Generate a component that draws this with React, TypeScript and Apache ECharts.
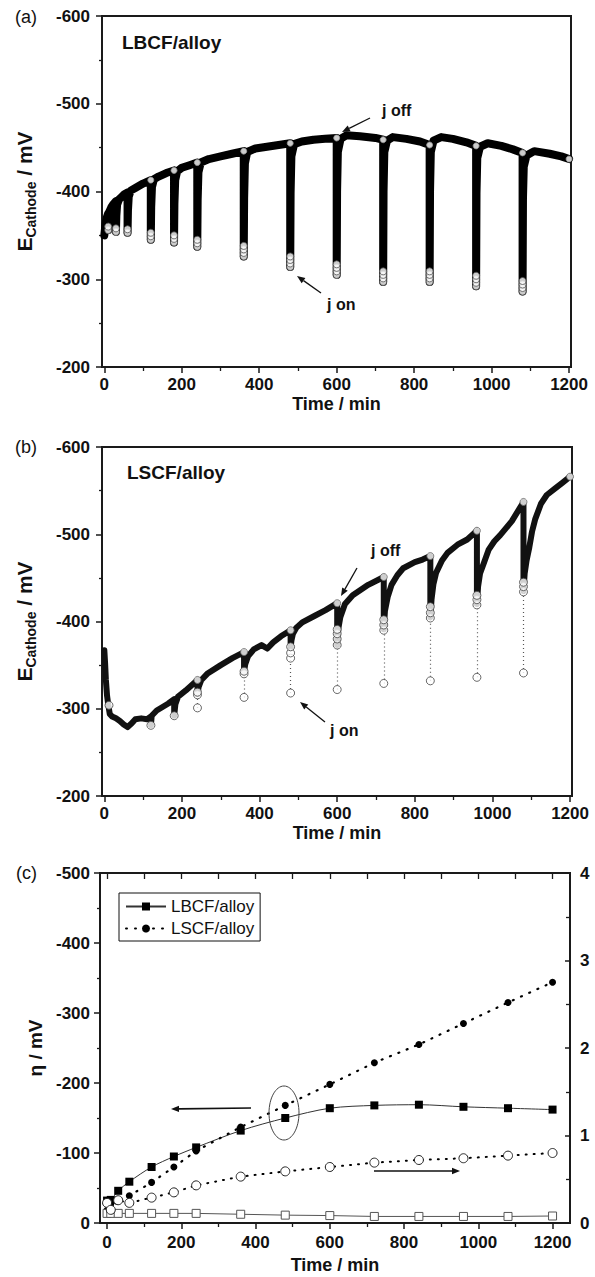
import React, { useEffect, useRef } from 'react';
import * as echarts from 'echarts';

const FONT = '"Liberation Sans", Arial, Helvetica, sans-serif';

// ---------- Panel (a): LBCF/alloy, E_cathode (mV) vs time (min) ----------
const lbcfBand: [number, number][] = [
  [0, -350], [3, -363], [6, -370], [10, -375], [10, -356], [11, -368], [13, -377], [18, -382], [24, -386], [30, -389],
  [30, -354], [31, -372], [33, -385], [38, -391], [45, -394], [52, -397], [60, -399],
  [60, -353], [61, -378], [63, -394], [68, -401], [80, -404], [100, -409], [120, -413],
  [120, -345], [121, -382], [123, -405], [128, -414], [140, -417], [160, -421], [180, -424],
  [180, -342], [181, -386], [183, -413], [188, -423], [200, -427], [220, -430], [240, -433],
  [240, -337], [241, -390], [243, -422], [249, -433], [270, -437], [300, -440], [330, -443], [360, -446],
  [360, -326], [361, -392], [363, -432], [369, -445], [390, -449], [420, -451], [450, -453], [480, -455],
  [480, -314], [481, -398], [483, -440], [490, -454], [510, -457], [540, -459], [570, -460], [600, -461],
  [600, -305], [601, -400], [603, -445], [610, -460], [625, -464], [660, -463], [700, -461], [720, -459],
  [720, -297], [721, -400], [723, -445], [730, -458], [745, -462], [780, -460], [815, -457], [840, -453],
  [840, -297], [841, -400], [843, -445], [850, -458], [870, -462], [900, -460], [935, -456], [960, -452],
  [960, -292], [961, -398], [963, -438], [970, -451], [990, -455], [1025, -452], [1055, -448], [1080, -444],
  [1080, -286], [1081, -392], [1083, -428], [1090, -441], [1110, -446], [1150, -443], [1180, -440], [1200, -437],
];
const lbcfOnCircles: [number, number][] = [
  [10, -356], [10, -360], [30, -354], [30, -358], [60, -353], [60, -357],
  [120, -345], [120, -349], [120, -353], [180, -342], [180, -346], [180, -350],
  [240, -337], [240, -341], [240, -345],
  [360, -326], [360, -330], [360, -334], [360, -338],
  [480, -314], [480, -318], [480, -322], [480, -326],
  [600, -305], [600, -309], [600, -313], [600, -317],
  [720, -297], [720, -301], [720, -305], [720, -309],
  [840, -297], [840, -301], [840, -305], [840, -309],
  [960, -292], [960, -296], [960, -300], [960, -304],
  [1080, -286], [1080, -290], [1080, -294], [1080, -298],
];
const lbcfOffPoints: [number, number][] = [
  [120, -413], [180, -424], [240, -433], [360, -446], [480, -455], [600, -461],
  [720, -459], [840, -453], [960, -452], [1080, -444], [1200, -437],
];

// ---------- Panel (b): LSCF/alloy ----------
const lscfBand: [number, number][] = [
  [0, -367], [2, -352], [4, -333], [7, -315], [10, -305], [14, -294], [20, -291], [30, -289], [40, -286], [50, -282],
  [60, -279], [70, -283], [80, -288], [95, -289], [110, -288], [120, -291], [120, -281], [122, -292], [135, -298],
  [150, -302], [165, -306], [180, -311], [180, -292], [183, -305], [190, -314], [210, -321], [225, -327], [240, -333],
  [240, -317], [243, -325], [250, -333], [265, -340], [300, -350], [330, -358], [360, -365],
  [360, -342], [363, -351], [370, -360], [385, -368], [405, -373], [420, -369], [435, -376], [455, -383], [480, -390],
  [480, -370], [482, -378], [486, -386], [495, -393], [510, -399], [540, -406], [570, -413], [600, -421],
  [600, -373], [603, -392], [608, -405], [620, -420], [640, -430], [680, -442], [720, -451],
  [720, -391], [723, -412], [730, -428], [740, -442], [755, -453], [770, -461], [800, -468], [820, -471], [840, -475],
  [840, -405], [843, -425], [848, -443], [855, -456], [870, -470], [885, -479], [910, -488], [935, -494], [960, -504],
  [960, -420], [963, -440], [968, -455], [977, -466], [990, -482], [1005, -492], [1020, -499], [1050, -515], [1080, -537],
  [1080, -435], [1083, -455], [1088, -470], [1095, -485], [1102, -503], [1110, -517], [1125, -535], [1140, -545],
  [1160, -552], [1180, -559], [1200, -566],
];
const lscfOnCircles: [number, number][] = [
  [12, -304], [120, -281], [180, -292],
  [240, -316], [240, -319], [240, -301],
  [360, -340], [360, -343], [360, -313],
  [480, -358], [480, -364], [480, -371], [480, -318],
  [600, -373], [600, -380], [600, -386], [600, -391], [600, -322],
  [720, -390], [720, -396], [720, -402], [720, -329],
  [840, -404], [840, -410], [840, -417], [840, -332],
  [960, -419], [960, -425], [960, -430], [960, -336],
  [1080, -434], [1080, -440], [1080, -445], [1080, -341],
];
const lscfDipBottoms: [number, number][] = [
  [240, -301], [360, -313], [480, -318], [600, -322], [720, -329], [840, -332], [960, -336], [1080, -341],
];
const lscfDipUppers: [number, number][] = [
  [240, -316], [360, -340], [480, -358], [600, -373], [720, -390], [840, -404], [960, -419], [1080, -434],
];
const lscfOffPoints: [number, number][] = [
  [240, -333], [360, -365], [480, -390], [600, -421], [720, -451], [840, -475], [960, -504], [1080, -537], [1200, -566],
];

// ---------- Panel (c): overpotential & right-axis quantity ----------
const etaTimes = [0, 10, 30, 60, 120, 180, 240, 360, 480, 600, 720, 840, 960, 1080, 1200];
const lbcfEta = [-32, -33, -46, -59, -80, -95, -108, -132, -150, -164, -168, -169, -166, -164, -162];
const lscfEta = [-18, -27, -31, -39, -58, -80, -103, -137, -168, -198, -229, -255, -285, -315, -344];
const lbcfRight = [0.11, 0.11, 0.11, 0.11, 0.11, 0.11, 0.11, 0.1, 0.09, 0.085, 0.075, 0.075, 0.075, 0.075, 0.08];
const lscfRight = [0.23, 0.15, 0.26, 0.23, 0.29, 0.35, 0.43, 0.53, 0.59, 0.64, 0.69, 0.72, 0.74, 0.77, 0.8];

const xMajorTicks = [0, 200, 400, 600, 800, 1000, 1200];
const xMinorTicks = [100, 300, 500, 700, 900, 1100];
const xAllTicks = [0, 100, 200, 300, 400, 500, 600, 700, 800, 900, 1000, 1100, 1200];

const AX = '#1a1a1a';
const labelStyle = { fontSize: 17, fontWeight: 'bold' as const, color: '#111', fontFamily: FONT };
const plain = (v: number) => String(v);

function mainX(gridIndex: number, min: number, max: number, nameGap: number, margin: number) {
  return {
    type: 'value', gridIndex, min, max, position: 'bottom',
    axisLine: { show: true, onZero: false, lineStyle: { color: AX, width: 2 } },
    axisTick: { show: true, customValues: xMajorTicks, length: 6, lineStyle: { color: AX, width: 1.5 } },
    axisLabel: { ...labelStyle, customValues: xMajorTicks, margin, formatter: plain },
    splitLine: { show: false },
    name: 'Time / min', nameLocation: 'middle', nameGap,
    nameTextStyle: { fontSize: 18, fontWeight: 'bold', color: '#111', fontFamily: FONT },
  };
}
function minorX(gridIndex: number, min: number, max: number, position: string, values: number[], inside: boolean, length: number) {
  return {
    type: 'value', gridIndex, min, max, position,
    axisLine: { show: position === 'top', onZero: false, lineStyle: { color: AX, width: 2 } },
    axisTick: { show: true, customValues: values, inside, length, lineStyle: { color: AX, width: 1.3 } },
    axisLabel: { show: false },
    splitLine: { show: false },
  };
}
function eYAxis(gridIndex: number) {
  return {
    type: 'value', gridIndex, min: -600, max: -200, interval: 100, inverse: true,
    axisLine: { show: true, onZero: false, lineStyle: { color: AX, width: 2 } },
    axisTick: { show: true, length: 6, lineStyle: { color: AX, width: 1.5 } },
    minorTick: { show: true, splitNumber: 2, length: 3, lineStyle: { color: AX, width: 1.3 } },
    axisLabel: { ...labelStyle, margin: 12, formatter: plain },
    splitLine: { show: false },
    name: '{e|E}{s|Cathode}{e| / mV}', nameLocation: 'middle', nameGap: 64, nameRotate: 90,
    nameTextStyle: {
      fontFamily: FONT, fontWeight: 'bold', color: '#111',
      rich: {
        e: { fontSize: 21, fontWeight: 'bold', fontFamily: FONT, color: '#111', lineHeight: 28 },
        s: { fontSize: 14, fontWeight: 'bold', fontFamily: FONT, color: '#111', lineHeight: 14, verticalAlign: 'bottom' },
      },
    },
  };
}

function arrow(x1: number, y1: number, x2: number, y2: number, lw = 1.3) {
  const a = Math.atan2(y2 - y1, x2 - x1);
  const L = 8, W = 3.2;
  const bx = x2 - L * Math.cos(a), by = y2 - L * Math.sin(a);
  const px = -Math.sin(a) * W, py = Math.cos(a) * W;
  return [
    { type: 'line', z: 100, shape: { x1, y1, x2: bx, y2: by }, style: { stroke: '#111', lineWidth: lw } },
    { type: 'polygon', z: 100, shape: { points: [[x2, y2], [bx + px, by + py], [bx - px, by - py]] }, style: { fill: '#111' } },
  ];
}
function txt(text: string, x: number, y: number, size: number, bold: boolean, align = 'left') {
  return {
    type: 'text', z: 100, x, y,
    style: { text, fontSize: size, fontWeight: bold ? 'bold' : 'normal', fontFamily: FONT, fill: '#111', align, verticalAlign: 'middle' },
  };
}

function buildOption() {
  const gridBase = { show: true, borderColor: AX, borderWidth: 2, backgroundColor: 'transparent', containLabel: false };
  const openCircle = { color: '#fff', borderColor: '#444', borderWidth: 1 };
  return {
    animation: false,
    backgroundColor: '#fff',
    grid: [
      { ...gridBase, left: 102, top: 16, width: 469, height: 351 },
      { ...gridBase, left: 102, top: 447, width: 470, height: 349 },
      { ...gridBase, left: 100, top: 873, width: 470, height: 350 },
    ],
    xAxis: [
      mainX(0, -6, 1205, 28, 9),
      minorX(0, -6, 1205, 'bottom', xMinorTicks, false, 4),
      mainX(1, -6, 1205, 28, 9),
      minorX(1, -6, 1205, 'bottom', xMinorTicks, false, 4),
      mainX(2, -19, 1247, 33, 11),
      minorX(2, -19, 1247, 'bottom', xMinorTicks, false, 4),
      minorX(2, -19, 1247, 'top', xAllTicks, true, 6),
    ],
    yAxis: [
      eYAxis(0),
      eYAxis(1),
      {
        type: 'value', gridIndex: 2, min: -500, max: 0, interval: 100, inverse: true,
        axisLine: { show: true, onZero: false, lineStyle: { color: AX, width: 2 } },
        axisTick: { show: true, length: 6, lineStyle: { color: AX, width: 1.5 } },
        minorTick: { show: true, splitNumber: 2, length: 3, lineStyle: { color: AX, width: 1.3 } },
        axisLabel: { ...labelStyle, margin: 10, formatter: plain },
        splitLine: { show: false },
        name: 'η / mV', nameLocation: 'middle', nameGap: 54, nameRotate: 90,
        nameTextStyle: { fontSize: 19, fontWeight: 'bold', color: '#111', fontFamily: FONT },
      },
      {
        type: 'value', gridIndex: 2, min: 0, max: 4, interval: 1, position: 'right',
        axisLine: { show: true, onZero: false, lineStyle: { color: AX, width: 2 } },
        axisTick: { show: true, inside: true, length: 5, lineStyle: { color: AX, width: 1.5 } },
        minorTick: { show: true, splitNumber: 2, length: 4, lineStyle: { color: AX, width: 1.3 } },
        axisLabel: { ...labelStyle, margin: 10, formatter: plain },
        splitLine: { show: false },
      },
    ],
    legend: {
      show: true, selectedMode: false,
      data: ['LBCF/alloy', 'LSCF/alloy'],
      orient: 'vertical', left: 119, top: 893,
      padding: [5, 6, 4, 6], itemGap: 5, itemWidth: 40, itemHeight: 10,
      borderColor: '#111', borderWidth: 1, backgroundColor: '#fff',
      textStyle: { fontSize: 17, fontFamily: FONT, color: '#111' },
    },
    series: [
      // (a)
      {
        type: 'line', name: 'LBCF band', xAxisIndex: 0, yAxisIndex: 0, data: lbcfBand,
        symbol: 'none', lineStyle: { color: '#000', width: 8, cap: 'round', join: 'round' }, z: 2,
      },
      {
        type: 'scatter', name: 'LBCF on', xAxisIndex: 0, yAxisIndex: 0, data: lbcfOnCircles,
        symbol: 'circle', symbolSize: 7, itemStyle: { color: '#fff', borderColor: '#555', borderWidth: 1 }, z: 4,
      },
      {
        type: 'scatter', name: 'LBCF off', xAxisIndex: 0, yAxisIndex: 0, data: lbcfOffPoints,
        symbol: 'circle', symbolSize: 6, itemStyle: { color: '#fff', borderColor: '#999', borderWidth: 1 }, z: 4,
      },
      // (b)
      {
        type: 'line', name: 'LSCF band', xAxisIndex: 2, yAxisIndex: 1, data: lscfBand,
        symbol: 'none', lineStyle: { color: '#111', width: 6, cap: 'round', join: 'round' }, z: 2,
      },
      {
        type: 'lines', coordinateSystem: 'cartesian2d', xAxisIndex: 2, yAxisIndex: 1,
        data: lscfDipBottoms.map((b, i) => ({ coords: [b, lscfDipUppers[i]] })),
        lineStyle: { color: '#555', width: 1.2, type: [1, 3], opacity: 1 }, z: 3,
      },
      {
        type: 'scatter', name: 'LSCF on', xAxisIndex: 2, yAxisIndex: 1, data: lscfOnCircles,
        symbol: 'circle', symbolSize: 8, itemStyle: openCircle, z: 4,
      },
      {
        type: 'scatter', name: 'LSCF off', xAxisIndex: 2, yAxisIndex: 1, data: lscfOffPoints,
        symbol: 'circle', symbolSize: 7, itemStyle: { color: '#fff', borderColor: '#666', borderWidth: 1 }, z: 4,
      },
      // (c)
      {
        type: 'line', name: 'LBCF/alloy', xAxisIndex: 4, yAxisIndex: 2,
        data: etaTimes.map((t, i) => [t, lbcfEta[i]]), smooth: 0.3,
        symbol: 'rect', symbolSize: 8, itemStyle: { color: '#000' },
        lineStyle: { color: '#333', width: 1 }, z: 5,
      },
      {
        type: 'line', name: 'LSCF/alloy', xAxisIndex: 4, yAxisIndex: 2,
        data: etaTimes.map((t, i) => [t, lscfEta[i]]),
        symbol: 'circle', symbolSize: 7, itemStyle: { color: '#000' },
        lineStyle: { color: '#000', width: 2.2, type: [1, 8], cap: 'round' }, z: 5,
      },
      {
        type: 'line', name: 'LBCF right', xAxisIndex: 4, yAxisIndex: 3,
        data: etaTimes.map((t, i) => [t, lbcfRight[i]]),
        symbol: 'rect', symbolSize: 8, itemStyle: { color: '#fff', borderColor: '#555', borderWidth: 1 },
        lineStyle: { color: '#555', width: 1 }, z: 5,
      },
      {
        type: 'line', name: 'LSCF right', xAxisIndex: 4, yAxisIndex: 3,
        data: etaTimes.map((t, i) => [t, lscfRight[i]]),
        symbol: 'circle', symbolSize: 9, itemStyle: { color: '#fff', borderColor: '#222', borderWidth: 1 },
        lineStyle: { color: '#000', width: 2, type: [1, 7], cap: 'round' }, z: 5,
      },
    ],
    graphic: [
      txt('(a)', 15, 17, 18, false),
      txt('(b)', 15, 447, 18, false),
      txt('(c)', 16, 873, 18, false),
      txt('LBCF/alloy', 122, 42, 19, true),
      txt('LSCF/alloy', 127, 472, 19, true),
      txt('j off', 382, 110, 16, true),
      ...arrow(370, 118, 342, 132),
      txt('j on', 327, 304, 16, true),
      ...arrow(321, 293, 297, 276),
      txt('j off', 371, 550, 16, true),
      ...arrow(357, 568, 341, 596),
      txt('j on', 330, 730, 16, true),
      ...arrow(325, 722, 300, 702),
      {
        type: 'ellipse', z: 100, shape: { cx: 284, cy: 1113, rx: 15, ry: 27 },
        style: { fill: 'none', stroke: '#444', lineWidth: 1 },
      },
      ...arrow(251, 1108, 171, 1109, 1.6),
      ...arrow(374, 1171, 460, 1171, 1.6),
    ],
  };
}

export default function App() {
  const ref = useRef<HTMLDivElement>(null);
  useEffect(() => {
    if (!ref.current) return;
    const chart = echarts.init(ref.current, null, { renderer: 'svg' });
    chart.setOption(buildOption() as any);
    return () => chart.dispose();
  }, []);
  return (
    <div
      ref={ref}
      style={{ position: 'absolute', left: 0, top: 0, width: 595, height: 1277, background: '#fff' }}
    />
  );
}
